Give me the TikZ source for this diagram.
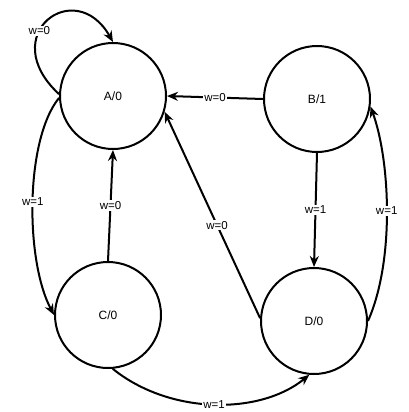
\documentclass[tikz,border=0pt]{standalone}
\usepackage{fontspec}
\setmainfont{Liberation Sans}
\usetikzlibrary{arrows.meta}
\begin{document}
\begin{tikzpicture}[x=1pt,y=-1pt,
  state/.style={circle,draw,line width=2pt,minimum size=106pt,inner sep=0pt,font=\fontsize{12}{13}\selectfont},
  edge/.style={line width=2pt,-{Stealth[length=11pt,width=9pt]}},
  lbl/.style={fill=white,inner sep=1pt,font=\fontsize{11.5}{12}\selectfont}]
\useasboundingbox[fill=white] (0,0) rectangle (408,412);
\node[state] (A) at (113,96) {A/0};
\node[state] (B) at (317,99) {B/1};
\node[state] (C) at (108,315) {C/0};
\node[state] (D) at (314,321) {D/0};
% self loop on A
\draw[edge] (A.178) .. controls (-5,35) and (75,-25) .. node[lbl,pos=0.4] {w=0} (A.90);
% A -> C
\draw[edge] (A.182) .. controls (25,140) and (25,260) .. node[lbl] {w=1} (C.180);
% C -> A
\draw[edge] (C.north) -- node[lbl] {w=0} (A.south);
% B -> A
\draw[edge] (B.west) -- node[lbl] {w=0} (A.east);
% D -> A
\draw[edge] (D.177) -- node[lbl,pos=0.45] {w=0} (A.-17);
% B -> D
\draw[edge] (B.south) -- node[lbl] {w=1} (D.north);
% D -> B
\draw[edge] (D.0) .. controls (395,260) and (390,160) .. node[lbl] {w=1} (B.-8);
% C -> D
\draw[edge] (C.-85) .. controls (170,415) and (260,415) .. node[lbl] {w=1} (D.-95);
\end{tikzpicture}
\end{document}
